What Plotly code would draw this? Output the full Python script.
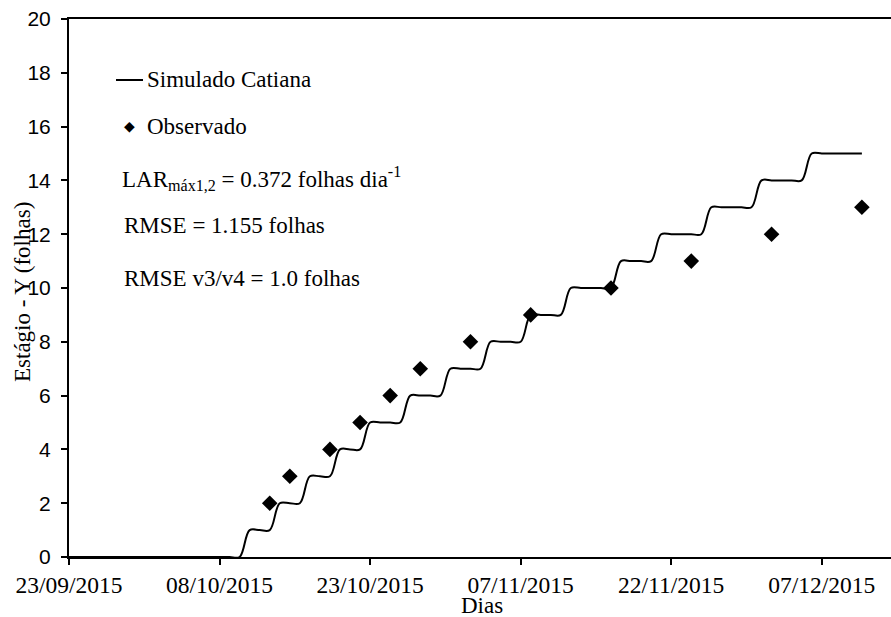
import plotly.graph_objects as go
import pandas as pd

# ---- data ----
sim_start = "2015-09-23"
sim_values = [0, 0, 0, 0, 0, 0, 0, 0, 0, 0,
              0, 0, 0, 0, 0, 0, 0, 0,
              1, 1, 1,
              2, 2, 2,
              3, 3, 3,
              4, 4, 4,
              5, 5, 5, 5,
              6, 6, 6, 6,
              7, 7, 7, 7,
              8, 8, 8, 8,
              9, 9, 9, 9,
              10, 10, 10, 10, 10,
              11, 11, 11, 11,
              12, 12, 12, 12, 12,
              13, 13, 13, 13, 13,
              14, 14, 14, 14, 14,
              15, 15, 15, 15, 15, 15]
sim_dates = pd.date_range(sim_start, periods=len(sim_values), freq="D")

obs_dates = ["2015-10-13", "2015-10-15", "2015-10-19", "2015-10-22", "2015-10-25",
             "2015-10-28", "2015-11-02", "2015-11-08", "2015-11-16", "2015-11-24",
             "2015-12-02", "2015-12-11"]
obs_values = [2, 3, 4, 5, 6, 7, 8, 9, 10, 11, 12, 13]

x_tick_dates = ["2015-09-23", "2015-10-08", "2015-10-23", "2015-11-07", "2015-11-22", "2015-12-07"]
x_tick_labels = ["23/09/2015", "08/10/2015", "23/10/2015", "07/11/2015", "22/11/2015", "07/12/2015"]
y_ticks = [0, 2, 4, 6, 8, 10, 12, 14, 16, 18, 20]

# ---- layout helpers (pixel -> paper) ----
W, H = 891, 617
L, R, T, B = 69, 0, 19, 60
PW, PH = W - L - R, H - T - B


def px(x):
    return (x - L) / PW


def py(y):
    return (H - B - y) / PH


SERIF = "Liberation Serif, Times New Roman, serif"
SANS = "Liberation Sans, Arial, sans-serif"

fig = go.Figure()
fig.add_trace(go.Scatter(
    x=sim_dates, y=sim_values, mode="lines",
    line=dict(color="black", width=2, shape="spline", smoothing=1.0),
    showlegend=False, hoverinfo="skip"))
fig.add_trace(go.Scatter(
    x=obs_dates, y=obs_values, mode="markers",
    marker=dict(symbol="diamond", size=12, color="black"),
    showlegend=False, cliponaxis=False))

fig.update_layout(
    template="none",
    width=W, height=H, autosize=False,
    margin=dict(l=L, r=R, t=T, b=B, pad=0, autoexpand=False),
    paper_bgcolor="white", plot_bgcolor="white",
    xaxis=dict(
        type="date", range=["2015-09-23", "2015-12-13 21:36"],
        automargin=False,
        tickvals=x_tick_dates, ticktext=x_tick_labels,
        ticks="outside", ticklen=6, tickwidth=1.5, tickcolor="black",
        showline=True, linecolor="black", linewidth=2, mirror=True,
        showgrid=False, zeroline=False,
        tickfont=dict(family=SERIF, size=23.5, color="black"),
    ),
    yaxis=dict(
        range=[0, 20], tickvals=y_ticks, automargin=False,
        ticks="outside", ticklen=6, tickwidth=1.5, tickcolor="black",
        showline=True, linecolor="black", linewidth=2,
        showgrid=False, zeroline=False,
        tickfont=dict(family=SANS, size=21, color="black"),
        ticklabelstandoff=6,
    ),
)

ann = []
text_font = dict(family=SERIF, size=23, color="black")
ann.append(dict(x=px(145), y=py(80), xref="paper", yref="paper", text="Simulado Catiana",
                showarrow=False, xanchor="left", yanchor="middle", font=text_font))
ann.append(dict(x=px(129), y=py(126), xref="paper", yref="paper", text="◆",
                showarrow=False, xanchor="center", yanchor="middle",
                font=dict(family="DejaVu Sans", size=14, color="black")))
ann.append(dict(x=px(145), y=py(126), xref="paper", yref="paper", text="Observado",
                showarrow=False, xanchor="left", yanchor="middle", font=text_font))
ann.append(dict(x=px(120), y=py(179), xref="paper", yref="paper",
                text="LAR<sub>máx1,2</sub> = 0.372 folhas dia<sup>-1</sup>",
                showarrow=False, xanchor="left", yanchor="middle", font=text_font))
ann.append(dict(x=px(122), y=py(225), xref="paper", yref="paper", text="RMSE = 1.155 folhas",
                showarrow=False, xanchor="left", yanchor="middle", font=text_font))
ann.append(dict(x=px(122), y=py(278), xref="paper", yref="paper", text="RMSE v3/v4 = 1.0 folhas",
                showarrow=False, xanchor="left", yanchor="middle", font=text_font))
ann.append(dict(x=px(22), y=py(292), xref="paper", yref="paper", text="Estágio - Y (folhas)",
                showarrow=False, xanchor="center", yanchor="middle", textangle=-90, font=text_font))
ann.append(dict(x=px(482), y=py(605), xref="paper", yref="paper", text="Dias",
                showarrow=False, xanchor="center", yanchor="middle", font=text_font))
fig.update_layout(annotations=ann)

fig.add_shape(type="line", xref="paper", yref="paper",
              x0=px(116), x1=px(143), y0=py(80), y1=py(80),
              line=dict(color="black", width=2))

fig.write_html("out.html")
